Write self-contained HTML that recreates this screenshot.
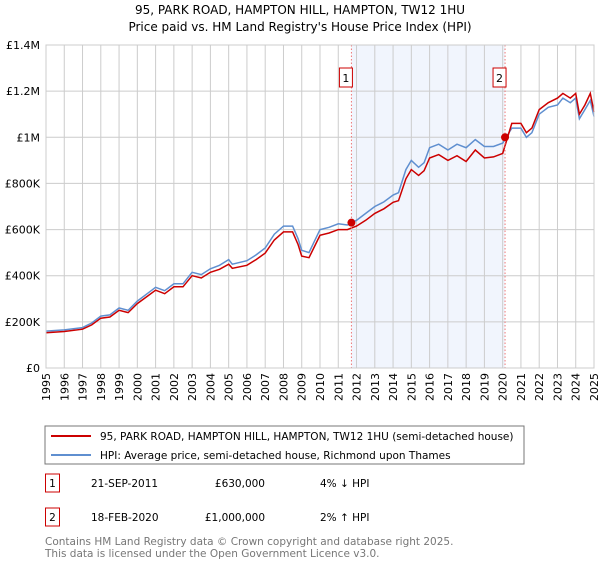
<!DOCTYPE html>
<html><head><meta charset="utf-8"><style>
body{margin:0;background:#fff;font-family:"DejaVu Sans","Liberation Sans",sans-serif;}
svg text{font-family:"DejaVu Sans","Liberation Sans",sans-serif;}
</style></head><body>
<svg id="c" width="600" height="560" xmlns="http://www.w3.org/2000/svg">
<text x="300" y="14" text-anchor="middle" font-size="12" fill="#000">95, PARK ROAD, HAMPTON HILL, HAMPTON, TW12 1HU</text>
<text x="300" y="31" text-anchor="middle" font-size="12" fill="#000">Price paid vs. HM Land Registry's House Price Index (HPI)</text>
<g id="plot"></g>
<rect x="45" y="426" width="479" height="38" fill="#fff" stroke="#777"/>
<line x1="51" y1="436" x2="91" y2="436" stroke="#cc0000" stroke-width="2"/>
<text x="100" y="440" font-size="10.5">95, PARK ROAD, HAMPTON HILL, HAMPTON, TW12 1HU (semi-detached house)</text>
<line x1="51" y1="455" x2="91" y2="455" stroke="#5f8fd0" stroke-width="2"/>
<text x="100" y="459" font-size="10.5">HPI: Average price, semi-detached house, Richmond upon Thames</text>
<g font-size="10.5">
<rect x="45.5" y="474" width="14" height="18" fill="#fff" stroke="#cc0000"/>
<text x="52.5" y="487" text-anchor="middle">1</text>
<text x="91" y="487">21-SEP-2011</text>
<text x="265" y="487" text-anchor="end">£630,000</text>
<text x="320" y="487">4% ↓ HPI</text>
<rect x="45.5" y="508" width="14" height="18" fill="#fff" stroke="#cc0000"/>
<text x="52.5" y="521" text-anchor="middle">2</text>
<text x="91" y="521">18-FEB-2020</text>
<text x="265" y="521" text-anchor="end">£1,000,000</text>
<text x="320" y="521">2% ↑ HPI</text>
</g>
<text x="45" y="545" font-size="10.5" fill="#777">Contains HM Land Registry data © Crown copyright and database right 2025.</text>
<text x="45" y="557" font-size="10.5" fill="#777">This data is licensed under the Open Government Licence v3.0.</text>
</svg>
<script>
const years=[1995,1996,1997,1997.5,1998,1998.5,1999,1999.5,2000,2000.5,2001,2001.5,2002,2002.5,2003,2003.5,2004,2004.5,2005,2005.2,2006,2006.5,2007,2007.5,2008,2008.5,2008.8,2009,2009.4,2010,2010.5,2011,2011.5,2012,2012.5,2013,2013.5,2014,2014.3,2014.7,2015,2015.4,2015.7,2016,2016.5,2017,2017.5,2018,2018.5,2019,2019.5,2020,2020.5,2021,2021.3,2021.6,2022,2022.5,2023,2023.3,2023.7,2024,2024.2,2024.5,2024.8,2025];
const hpiValues=[160,165,175,195,225,230,260,250,290,320,350,335,365,365,415,405,430,445,470,450,465,490,520,580,615,615,560,510,500,600,610,625,620,640,670,700,720,750,760,860,900,870,890,955,970,945,970,955,990,960,960,975,1040,1040,1000,1020,1100,1130,1140,1170,1150,1170,1080,1120,1160,1090];
const priceValues=[153,158,168,187,216,221,250,240,279,308,337,322,352,352,400,390,415,428,450,432,445,470,498,555,590,590,535,485,478,575,585,600,600,615,640,670,690,718,725,820,860,835,855,910,925,900,920,895,945,910,915,930,1060,1060,1020,1040,1120,1150,1170,1190,1170,1190,1100,1140,1190,1110];
const sales=[[2011.72,630],[2020.13,1000]];
const yTicks=[0,200,400,600,800,1000,1200,1400];
const yTickLabels=["£0","£200K","£400K","£600K","£800K","£1M","£1.2M","£1.4M"];
const X0=46,X1=594,Y0=368,Y1=45;
const xs=y=>X0+(y-1995)/30*(X1-X0);
const ys=v=>Y0-v/1400*(Y0-Y1);
const NS="http://www.w3.org/2000/svg";
const g=document.getElementById('plot');
function mk(t,a,p){const e=document.createElementNS(NS,t);for(const k in a)e.setAttribute(k,a[k]);(p||g).appendChild(e);return e;}
let sh=mk('rect',{x:xs(sales[0][0]),y:Y1,width:xs(sales[1][0])-xs(sales[0][0]),height:Y0-Y1,fill:'#eef3fc',opacity:0.8});


for(let yr=1995;yr<=2025;yr++){
 let l=mk('line',{x1:xs(yr),x2:xs(yr),y1:Y1,y2:Y0,stroke:'#ccc','stroke-width':1});
 
 
 let t=mk('text',{x:0,y:0,'font-size':11,'text-anchor':'end',transform:`translate(${xs(yr)+4},${Y0+5}) rotate(-90)`});
 t.textContent=yr;
 
 
}
yTicks.forEach((v,i)=>{
 let l=mk('line',{x1:X0,x2:X1,y1:ys(v),y2:ys(v),stroke:'#ccc','stroke-width':1});
 
 
 let t=mk('text',{x:X0-6,y:ys(v)+4,'font-size':11,'text-anchor':'end'});
 t.textContent=yTickLabels[i];
 
 
});
const pts=a=>a.map((v,i)=>xs(years[i]).toFixed(1)+','+ys(v).toFixed(1)).join(' ');
let hl=mk('polyline',{points:pts(hpiValues),fill:'none',stroke:'#5f8fd0','stroke-width':1.5});


let pl=mk('polyline',{points:pts(priceValues),fill:'none',stroke:'#cc0000','stroke-width':1.5});


sales.forEach((s,i)=>{
 let l=mk('line',{x1:xs(s[0]),x2:xs(s[0]),y1:Y1,y2:Y0,stroke:'#ee7777','stroke-width':1,'stroke-dasharray':'1.5,2'});
 
 
 let c=mk('circle',{cx:xs(s[0]),cy:ys(s[1]),r:4,fill:'#cc0000'});
 
 
 let b=mk('rect',{x:xs(s[0])-12,y:68,width:13,height:19,fill:'#fff',stroke:'#cc0000'});
 
 
 let t=mk('text',{x:xs(s[0])-5.5,y:82,'font-size':11,'text-anchor':'middle'});
 t.textContent=String(i+1);
 
 
});
let ax=mk('rect',{x:X0,y:Y1,width:X1-X0,height:Y0-Y1,fill:'none',stroke:'#ccc'});


</script>
</body></html>
